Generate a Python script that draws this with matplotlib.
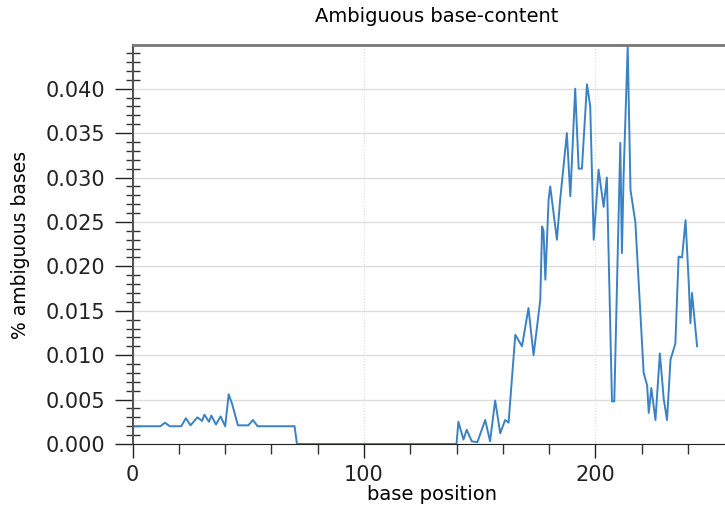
import numpy as np
import matplotlib
matplotlib.use("Agg")
from matplotlib import pyplot as plt
from matplotlib.ticker import MultipleLocator, FormatStrFormatter

# base positions and % ambiguous bases
positions = [0, 12, 14, 16, 21, 23, 25, 28, 30, 31, 33, 34, 36, 38, 40, 41.5, 43, 45.5,
             50, 52, 54, 70, 71, 72,
             140, 140.8, 143, 144.4, 146.6, 149, 152.4, 154.5, 156.7, 158.9, 161,
             162.5, 165.4, 168.3, 171.1, 173.3, 176.2, 177, 177.6, 178.4, 179.8,
             180.5, 183.4, 184.8, 187.7, 189.2, 191.3, 192.8, 194.2, 196.4, 197.8,
             199.3, 201.4, 203.6, 205, 207.2, 208.2, 210.8, 211.5, 212.2, 214,
             215.2, 217.3, 220.9, 222.4, 223.1, 224.2, 226, 227.9, 229.6, 231,
             232.5, 234.6, 236, 237.5, 239, 240.4, 241.1, 241.8, 244]
ambiguous = [0.0020, 0.0020, 0.0024, 0.0020, 0.0020, 0.0029, 0.0021, 0.0030, 0.0026, 0.0033,
             0.0025, 0.0032, 0.0022, 0.0031, 0.0020, 0.0056, 0.0045, 0.0021,
             0.0021, 0.0027, 0.0020, 0.0020, 0.0000, 0.0000,
             0.0000, 0.0025, 0.0005, 0.0016, 0.0003, 0.0002, 0.0027, 0.0003, 0.0049,
             0.0012, 0.0027, 0.0024, 0.0123, 0.0110, 0.0153, 0.0100, 0.0162, 0.0245,
             0.0240, 0.0185, 0.0275, 0.0290, 0.0230, 0.0275, 0.0350, 0.0279, 0.0400,
             0.0310, 0.0310, 0.0405, 0.0380, 0.0230, 0.0309, 0.0267, 0.0300, 0.0048,
             0.0048, 0.0339, 0.0215, 0.0300, 0.0448, 0.0286, 0.0250, 0.0080, 0.0066,
             0.0035, 0.0063, 0.0027, 0.0102, 0.0050, 0.0027, 0.0095, 0.0113, 0.0211,
             0.0210, 0.0252, 0.0181, 0.0136, 0.0170, 0.0110]

fig = plt.figure(figsize=(7.25, 5.08), dpi=100)
ax = fig.add_axes([0.183, 0.126, 0.82, 0.785])

ax.plot(positions, ambiguous, '-', color='#3a82c4', lw=1.4)

ax.set_xlim(0, 257)
ax.set_ylim(0, 0.0449)
ax.xaxis.set_major_locator(MultipleLocator(100))
ax.xaxis.set_minor_locator(MultipleLocator(20))
ax.yaxis.set_major_locator(MultipleLocator(0.005))
ax.yaxis.set_minor_locator(MultipleLocator(0.001))
ax.yaxis.set_major_formatter(FormatStrFormatter('%.3f'))

ax.tick_params(axis='y', which='major', direction='out', length=13, width=1,
               labelsize=15, colors='#222222', pad=7)
ax.tick_params(axis='y', which='minor', direction='inout', length=10, width=1,
               colors='#333333')
ax.tick_params(axis='x', which='major', direction='out', length=10, width=1,
               labelsize=15, colors='#222222', pad=5)
ax.tick_params(axis='x', which='minor', direction='out', length=7, width=1,
               colors='#333333')

ax.grid(axis='y', which='major', color='#dddddd', lw=1)
ax.grid(axis='x', which='major', color='#dddddd', lw=0.8, ls=':')

ax.spines['top'].set_color('#777777')
ax.spines['top'].set_linewidth(2)
ax.spines['left'].set_color('#555555')
ax.spines['left'].set_linewidth(1.5)
ax.spines['bottom'].set_color('#222222')
ax.spines['right'].set_visible(False)

fig.text(0.603, 0.968, "Ambiguous base-content", fontsize=14, ha='center', va='center')
fig.text(0.596, 0.026, "base position", fontsize=14, ha='center', va='center')
fig.text(0.028, 0.518, "% ambiguous bases", fontsize=13.5, ha='center', va='center',
         rotation=90)

plt.savefig("out.png", dpi=100)
